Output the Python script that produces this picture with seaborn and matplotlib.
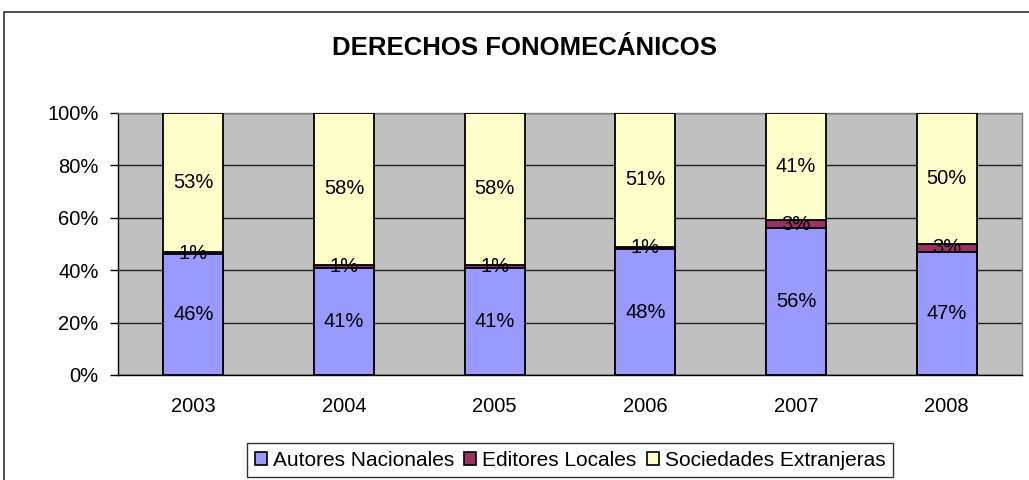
import matplotlib
matplotlib.use('Agg')
import matplotlib.pyplot as plt
import seaborn as sns
import pandas as pd
from matplotlib.patches import Rectangle

years = ['2003', '2004', '2005', '2006', '2007', '2008']
autores = [46, 41, 41, 48, 56, 47]
editores = [1, 1, 1, 1, 3, 3]
sociedades = [53, 58, 58, 51, 41, 50]
series_names = ['Autores Nacionales', 'Editores Locales', 'Sociedades Extranjeras']
colors = ['#9999FF', '#993366', '#FFFFCC']

sns.set_style('white')
plt.rcParams['font.family'] = ['Liberation Sans', 'DejaVu Sans']
plt.rcParams['text.color'] = 'black'
plt.rcParams['xtick.color'] = 'black'
plt.rcParams['ytick.color'] = 'black'

df = pd.DataFrame({'year': years, 'a': autores, 'e': editores, 's': sociedades})
df['cum_a'] = df['a']
df['cum_e'] = df['a'] + df['e']
df['cum_s'] = df['a'] + df['e'] + df['s']

fig = plt.figure(figsize=(10.29, 4.80), dpi=100)
ax = fig.add_axes([118 / 1029, 105 / 480, (1022 - 118) / 1029, (375 - 113) / 480])
ax.set_facecolor('#C0C0C0')

# draw from top of stack down so the lower series sit on top
for col, color in zip(['cum_s', 'cum_e', 'cum_a'], colors[::-1]):
    sns.barplot(data=df, x='year', y=col, color=color, width=0.4,
                edgecolor='black', linewidth=1.3, saturation=1, ax=ax, zorder=3)

# labels in the middle of each segment
for i in range(len(years)):
    base = 0
    for vals in [autores, editores, sociedades]:
        v = vals[i]
        ax.text(i, base + v / 2, f'{v}%', ha='center', va='center',
                fontsize=14.5, color='black', zorder=5)
        base += v

ax.set_ylim(0, 100)
ax.set_xlim(-0.5, len(years) - 0.5)
ax.set_yticks(range(0, 101, 20))
ax.set_yticklabels([f'{t}%' for t in range(0, 101, 20)])
ax.yaxis.grid(True, color='#202020', linewidth=1, zorder=0)
ax.set_axisbelow(True)
ax.set_xlabel('')
ax.set_ylabel('')

ax.set_xticks([i - 0.5 for i in range(len(years) + 1)], minor=True)
ax.tick_params(axis='x', which='minor', length=6, width=1, color='black', direction='out')
ax.tick_params(axis='x', which='major', length=0, labelsize=14.5, pad=16)
ax.tick_params(axis='y', length=6, width=1, color='black', direction='out', labelsize=14.5, pad=8)
ax.tick_params(left=True, bottom=True)

for side in ['left', 'bottom']:
    ax.spines[side].set_color('black')
    ax.spines[side].set_linewidth(1)
for side in ['top', 'right']:
    ax.spines[side].set_color('#808080')
    ax.spines[side].set_linewidth(1)

fig.suptitle('DERECHOS FONOMECÁNICOS', x=525 / 1029, y=1 - 48 / 480, va='center',
             fontsize=18.5, fontweight='bold', color='black')

handles = [Rectangle((0, 0), 1, 1, facecolor=c, edgecolor='black', linewidth=1.2) for c in colors]
leg = fig.legend(handles, series_names, loc='center', bbox_to_anchor=(570 / 1029, 1 - 460 / 480),
                 ncol=3, fontsize=15, frameon=True, fancybox=False, edgecolor='black',
                 handlelength=0.58, handleheight=0.58, handletextpad=0.29, columnspacing=0.48,
                 borderpad=0.35, borderaxespad=0)
leg.get_frame().set_linewidth(1)

# outer chart border
fig.add_artist(Rectangle((4 / 1029, -0.2), 1.2, 0.2 + (480 - 12) / 480,
                         transform=fig.transFigure, fill=False, edgecolor='#303030', linewidth=1.2))

fig.savefig('out.png', dpi=100)
